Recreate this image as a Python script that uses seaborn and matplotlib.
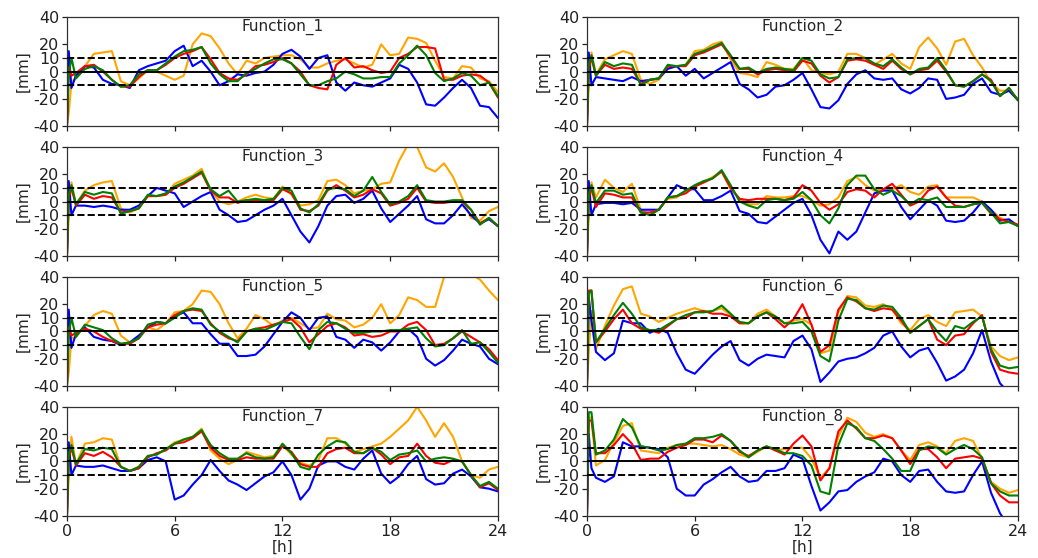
import numpy as np
import pandas as pd
import matplotlib
matplotlib.use("Agg")
import matplotlib.pyplot as plt
import seaborn as sns

# ---------------- data (mm deviation vs hour) ----------------
hours = np.concatenate([[0.0, 0.1, 0.25], np.arange(0.5, 24.01, 0.5)])

f1_blue = [-40, 15, -12, -3, 4, 3, -6, -9, -10, -12, 1, 4, 6, 8, 15, 19, 4, 8, 0, -10, -7, -2, -3, -1, 0, 5, 13, 16, 11, 2, 10, 12, -8, -14, -8, -10, -11, -8, -5, 5, 2, -8, -24, -25, -19, -12, -6, -12, -25, -26, -34]
f1_red = [-40, 3, -3, -1, 4, 5, 0, -6, -11, -11, -4, 1, 1, 5, 10, 13, 15, 18, 9, -1, -5, -6, -2, 4, 5, 7, 10, 6, 0, -10, -12, -13, 5, 10, 3, 4, 1, -1, 0, 10, 13, 18, 18, 17, -6, -6, -3, -2, -3, -8, -19]
f1_green = [-40, -2, 10, -5, 2, 4, 1, -6, -11, -10, -2, 1, 1, 6, 11, 15, 16, 18, 6, -2, -7, -7, -1, 2, 6, 9, 9, 6, -2, -10, -10, -7, -5, 0, -2, -5, -5, -4, -4, 6, 12, 19, 12, -1, -7, -5, -1, -3, -10, -8, -18]
f1_orange = [-40, -30, -8, -4, 4, 13, 14, 15, -7, -10, -5, 1, 0, -3, -6, -3, 20, 28, 26, 17, 6, -2, 8, 6, 10, 11, 12, 12, 9, 3, 3, 6, 8, 9, 6, 3, 5, 20, 12, 13, 25, 24, 21, 8, -4, -5, 4, 3, -5, -7, -15]

f2_blue = [-40, 14, -10, -4, -5, -6, -7, -4, -7, -6, -5, 2, 4, -3, 2, -5, -1, 3, 7, -9, -13, -19, -17, -11, -10, -6, -1, -13, -26, -27, -21, -9, -2, 1, -5, -6, -5, -13, -16, -12, -5, -6, -20, -19, -17, -9, -5, -15, -17, -14, -21]
f2_red = [-40, 3, 10, -3, 5, 2, 3, 2, -9, -6, -5, 4, 4, 4, 12, 14, 17, 20, 11, 2, 2, -2, 1, 2, 1, 0, 8, 6, -3, -8, -4, 8, 9, 8, 5, 2, 8, 2, -2, 1, 2, 8, 0, -10, -11, -7, -2, -6, -18, -12, -21]
f2_green = [-40, 5, 12, -3, 7, 4, 6, 5, -10, -6, -5, 5, 4, 5, 13, 15, 18, 21, 12, 2, 3, -1, 2, 3, 2, 1, 10, 8, -2, -5, -4, 9, 10, 10, 6, 4, 9, 3, -2, 2, 3, 10, 1, -10, -11, -7, -2, -7, -18, -12, -21]
f2_orange = [-40, -10, 14, -2, 9, 12, 15, 13, -6, -9, -6, 3, 4, 5, 15, 16, 20, 22, 9, -1, -2, -4, 7, 5, 2, 2, 10, 1, -1, -2, 0, 13, 13, 10, 5, 9, 13, 6, 2, 18, 25, 17, 5, 22, 24, 12, 3, -8, -14, -14, -20]

f3_blue = [-40, 15, -10, -3, -3, -4, -3, -4, -6, -6, -3, 4, 10, 8, 6, -4, 0, 4, 7, -6, -10, -15, -14, -10, -6, -3, 2, -10, -22, -30, -18, -3, 4, 5, -1, 2, 8, -5, -15, -9, -3, 4, -13, -16, -16, -10, -2, -10, -16, -13, -18]
f3_red = [-40, 3, 10, -3, 5, 2, 4, 3, -8, -7, -5, 4, 4, 5, 10, 13, 17, 21, 8, 3, 3, -1, 1, 1, 0, 1, 9, 6, -6, -7, -3, 8, 12, 8, 3, 5, 9, 6, -3, -1, 2, 10, 0, -1, -1, 0, 0, -6, -16, -12, -18]
f3_green = [-40, 5, 12, -2, 7, 5, 7, 6, -9, -7, -5, 5, 4, 6, 11, 14, 18, 22, 9, 4, 8, 0, 1, 2, 1, 2, 10, 8, -5, -8, -2, 9, 10, 9, 4, 8, 18, 7, -2, 0, 4, 12, 1, 0, 0, 1, 1, -6, -17, -12, -18]
f3_orange = [-40, -10, 14, -2, 8, 12, 14, 15, -5, -8, -5, 4, 4, 5, 13, 16, 19, 24, 8, 0, -2, 0, 3, 5, 3, 2, 11, 5, -3, -2, 1, 15, 16, 12, 6, 8, 9, 13, 14, 30, 42, 40, 25, 22, 28, 18, 3, -12, -14, -7, -4]

f4_blue = [-40, 15, -10, -2, -1, -1, -2, -1, -6, -6, -6, 3, 12, 9, 9, 1, 1, 4, 8, -7, -9, -15, -16, -11, -6, -1, 2, -10, -28, -38, -22, -28, -22, -8, 6, 8, 8, -4, -13, -6, 1, -3, -14, -15, -14, -8, 0, -6, -14, -13, -18]
f4_red = [-40, 3, 10, -4, 6, 5, 3, 3, -8, -8, -6, 3, 4, 6, 11, 14, 17, 22, 10, 2, 1, 2, 2, 2, 1, 3, 12, 8, -1, -6, -2, 7, 9, 8, 3, 9, 13, 5, -3, 0, 8, 11, 3, -3, -4, -2, -1, -9, -13, -15, -17]
f4_green = [-40, 5, 12, -1, 8, 8, 5, 6, -8, -10, -6, 3, 4, 8, 12, 15, 17, 23, 12, 0, -3, -5, 1, 2, 1, 2, 7, 1, -10, -16, -5, 12, 19, 19, 9, 5, 8, 4, -2, 2, 1, 3, -4, -4, -4, -2, -1, -8, -16, -15, -18]
f4_orange = [-40, -10, 14, 3, 16, 10, 7, 13, -6, -10, -6, 2, 3, 8, 11, 14, 18, 22, 9, 2, -2, -2, 4, 3, 3, 4, 4, 1, -3, -2, 3, 15, 18, 12, 8, 9, 9, 12, 7, 5, 11, 12, 3, 3, 3, 3, 0, -6, -12, -14, -17]

f5_blue = [-40, 16, -12, -2, 3, -4, -6, -7, -10, -8, -3, 3, 7, 6, 11, 14, 6, 6, -2, -9, -9, -18, -18, -17, -11, -2, 7, 14, 10, 1, 10, 11, -4, -6, -12, -6, -8, -14, -8, 0, 2, -4, -20, -25, -21, -14, -6, -9, -11, -20, -24]
f5_red = [-40, 3, -3, -1, 2, 0, -4, -7, -9, -9, -5, 3, 5, 6, 12, 15, 16, 15, 6, -1, -5, -7, 0, 2, 3, 5, 7, 9, 3, -8, -2, 4, 6, 3, -3, -2, -4, -3, 0, 0, 5, 7, 1, -10, -9, -5, 0, -4, -8, -13, -21]
f5_green = [-40, -2, 10, -4, 5, 3, 1, -5, -9, -8, -5, 5, 7, 6, 10, 15, 17, 16, 5, 0, -4, -8, 0, 2, 1, 4, 7, 6, -4, -13, 1, 7, 6, 2, -1, -1, 0, 0, 1, 1, 2, 3, -5, -11, -10, -5, 1, -9, -8, -15, -23]
f5_orange = [-40, -30, -5, -4, 4, 12, 15, 13, -3, -8, -4, 3, 1, 6, 14, 15, 20, 30, 29, 20, 6, -5, 2, 12, 9, 4, 8, 10, 6, 2, 3, 13, 9, 8, 3, 5, 10, 20, 6, 12, 25, 23, 18, 18, 40, 42, 42, 42, 38, 30, 23]

f6_blue = [-40, 25, 8, -15, -21, -16, 8, 6, 6, -1, 2, -1, -16, -28, -31, -24, -17, -11, -7, -21, -25, -20, -17, -18, -19, -7, -3, -13, -37, -30, -22, -20, -19, -16, -12, -3, 0, -11, -19, -14, -12, -23, -36, -33, -28, -16, 1, -22, -38, -45, -48]
f6_red = [-40, 30, 30, -8, 0, 9, 16, 6, 2, 1, -1, 4, 9, 10, 14, 15, 13, 13, 11, 6, 6, 11, 14, 9, 3, 9, 20, 5, -15, -10, 16, 25, 22, 17, 15, 17, 16, 8, -1, 4, 9, -6, -10, -3, -2, 6, 12, -15, -28, -30, -31]
f6_green = [-40, 28, 30, -8, 2, 12, 21, 13, 3, 1, 1, 5, 9, 12, 14, 14, 15, 19, 13, 7, 6, 11, 14, 11, 6, 6, 7, 0, -18, -22, 8, 24, 23, 17, 16, 19, 18, 10, -1, 4, 9, 0, -7, 4, 2, 7, 11, -13, -25, -27, -26]
f6_orange = [-40, -15, 15, -13, 4, 19, 31, 33, 13, 11, 7, 10, 13, 15, 17, 15, 15, 17, 12, 6, 6, 13, 16, 11, 6, 8, 9, 5, -16, -14, 14, 26, 25, 19, 18, 20, 16, 6, 1, 9, 12, 7, 4, 14, 15, 16, 11, -11, -18, -21, -19]

f7_blue = [-40, 14, -10, -3, -4, -4, -3, -5, -7, -7, -5, 1, 3, 0, -28, -25, -17, -10, 1, -7, -14, -17, -21, -16, -11, -8, 0, -10, -28, -20, -3, 0, 0, -4, -6, 2, 8, -9, -16, -11, -2, 4, -13, -17, -16, -9, -6, -11, -19, -20, -22]
f7_red = [-40, 3, 10, -3, 6, 4, 7, 3, -4, -7, -5, 3, 6, 8, 13, 14, 17, 22, 10, 4, 1, 1, 3, 2, 2, 2, 11, 7, -2, -4, -4, 6, 9, 10, 6, 6, 10, 5, -2, 3, 4, 13, 4, -1, -2, 1, 0, -10, -19, -16, -21]
f7_green = [-40, 5, 12, -2, 9, 8, 10, 9, -4, -7, -4, 4, 5, 9, 13, 16, 18, 23, 12, 6, 2, 2, 6, 3, 2, 3, 13, 6, -4, -6, 5, 11, 15, 14, 7, 6, 10, 7, 1, 5, 6, 8, 0, 2, 3, 2, 0, -10, -18, -15, -20]
f7_orange = [-40, -10, 18, -2, 13, 14, 17, 16, -4, -7, -4, 4, 5, 9, 14, 16, 18, 24, 8, 2, -2, 1, 7, 5, 3, 4, 12, 5, -1, -3, 1, 17, 17, 13, 7, 9, 11, 13, 18, 24, 30, 40, 30, 18, 28, 18, 0, -10, -12, -6, -4]

f8_blue = [-40, 20, -5, -12, -15, -11, 14, 11, 11, 10, 9, 3, -20, -25, -25, -17, -13, -8, -4, -11, -15, -14, -7, -7, -5, 5, 2, -18, -36, -30, -22, -21, -15, -11, -8, 2, 0, -10, -15, -7, -6, -15, -22, -23, -22, -10, 0, -23, -38, -48, -52]
f8_red = [-40, 30, 30, 6, 6, 12, 20, 13, 1, 2, 2, 7, 10, 12, 16, 16, 14, 19, 15, 7, 4, 8, 11, 8, 5, 13, 19, 11, -14, -5, 22, 30, 24, 17, 17, 19, 17, 8, -2, 9, 9, 3, -5, 2, 3, 4, 2, -16, -25, -30, -30]
f8_green = [-40, 36, 36, 5, 8, 16, 31, 25, 11, 10, 8, 9, 12, 13, 17, 17, 18, 20, 15, 8, 3, 8, 11, 9, 6, 6, 4, -3, -22, -24, 12, 28, 25, 17, 15, 9, 2, -7, -7, 8, 11, 10, 5, 9, 12, 9, 3, -16, -22, -25, -25]
f8_orange = [-40, 32, 32, -3, 1, 14, 26, 28, 8, 7, 6, 10, 12, 13, 13, 12, 11, 12, 9, 5, 3, 7, 11, 8, 9, 10, 10, 2, -12, -5, 18, 32, 29, 21, 18, 20, 17, 8, 1, 12, 14, 11, 6, 15, 17, 15, 2, -15, -20, -23, -21]

function_names = ["Function_1", "Function_2", "Function_3", "Function_4",
                  "Function_5", "Function_6", "Function_7", "Function_8"]
series_order = ["orange", "blue", "red", "green"]   # drawing order (last on top)
x_ticks = [0, 6, 12, 18, 24]
y_ticks = [-40, -20, -10, 0, 10, 20, 40]
y_tick_labels = ["-40", "-20", "-10", "0", "10", "20", "40"]

panel_data = {
    "Function_1": {"blue": f1_blue, "red": f1_red, "green": f1_green, "orange": f1_orange},
    "Function_2": {"blue": f2_blue, "red": f2_red, "green": f2_green, "orange": f2_orange},
    "Function_3": {"blue": f3_blue, "red": f3_red, "green": f3_green, "orange": f3_orange},
    "Function_4": {"blue": f4_blue, "red": f4_red, "green": f4_green, "orange": f4_orange},
    "Function_5": {"blue": f5_blue, "red": f5_red, "green": f5_green, "orange": f5_orange},
    "Function_6": {"blue": f6_blue, "red": f6_red, "green": f6_green, "orange": f6_orange},
    "Function_7": {"blue": f7_blue, "red": f7_red, "green": f7_green, "orange": f7_orange},
    "Function_8": {"blue": f8_blue, "red": f8_red, "green": f8_green, "orange": f8_orange},
}

rows = []
for fname, d in panel_data.items():
    for sname, vals in d.items():
        n = min(len(vals), len(hours))
        for h, v in zip(hours[:n], vals[:n]):
            rows.append((fname, sname, h, v))
df = pd.DataFrame(rows, columns=["function", "series", "hour", "mm"])

palette = {"blue": "blue", "red": "red", "green": "green", "orange": "orange"}

# ---------------- plotting ----------------
sns.set_theme(style="ticks")
plt.rcParams.update({
    "font.family": ["DejaVu Sans"],
    "axes.edgecolor": "#333333",
    "axes.linewidth": 0.9,
    "xtick.labelsize": 11.5,
    "ytick.labelsize": 11.5,
    "xtick.color": "#222222",
    "ytick.color": "#222222",
    "axes.labelsize": 11,
})

fig, axes = plt.subplots(4, 2, figsize=(10.38, 5.58), dpi=100, sharex=True)
fig.subplots_adjust(left=0.0645, right=0.9807, top=0.9695, bottom=0.0753,
                    wspace=0.2065, hspace=0.19)

for ax, fname in zip(axes.flat, function_names):
    sub = df[df["function"] == fname]
    sns.lineplot(data=sub, x="hour", y="mm", hue="series", hue_order=series_order,
                 palette=palette, estimator=None, sort=False, legend=False,
                 linewidth=1.5, ax=ax)
    ax.axhline(0, color="black", linewidth=1.4, zorder=3)
    ax.axhline(10, color="black", linewidth=1.4, linestyle="--", zorder=3)
    ax.axhline(-10, color="black", linewidth=1.4, linestyle="--", zorder=3)
    ax.set_xlim(0, 24)
    ax.set_ylim(-40, 40)
    ax.set_xticks(x_ticks)
    ax.set_yticks(y_ticks)
    ax.set_yticklabels(y_tick_labels)
    ax.set_ylabel("[mm]", labelpad=2)
    ax.set_xlabel("")
    ax.text(0.5, 0.91, fname, transform=ax.transAxes, ha="center", va="center",
            fontsize=11)
    ax.tick_params(length=3.5, width=0.9, pad=2)

for ax in axes[-1]:
    ax.set_xlabel("[h]", labelpad=1)

fig.savefig("out.png", dpi=100)
